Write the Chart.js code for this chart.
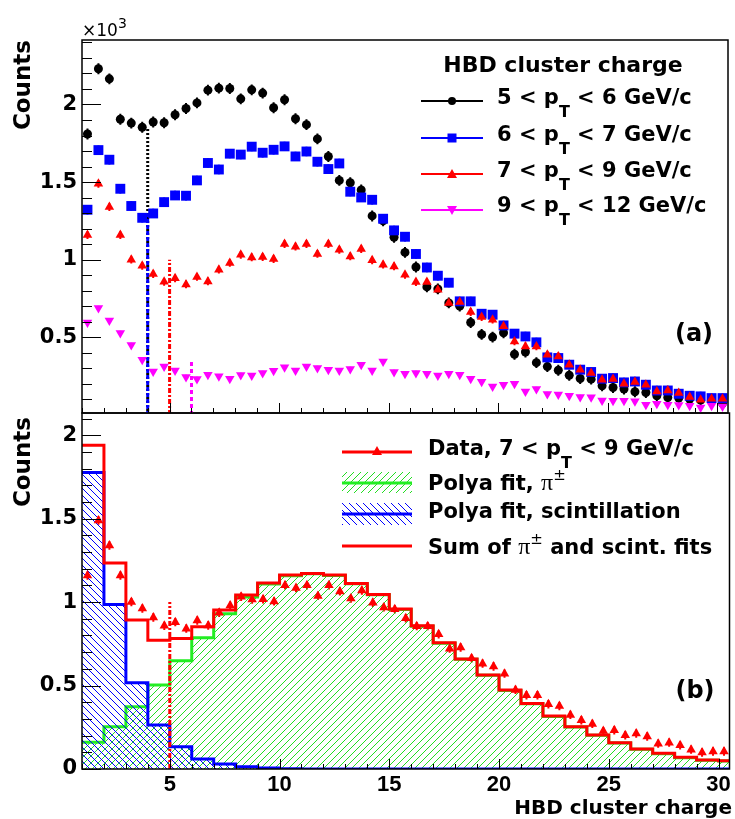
<!DOCTYPE html>
<html>
<head>
<meta charset="utf-8">
<script src="https://cdn.jsdelivr.net/npm/chart.js@4.4.1/dist/chart.umd.min.js"></script>
<style>
  body { margin: 0; background: #fff; }
  #wrap { position: relative; width: 735px; height: 819px; overflow: hidden; }
  canvas { position: absolute; left: 0; top: 0; }
  .t { position: absolute; font-family: "DejaVu Sans"; font-weight: bold; color: #000; white-space: nowrap; line-height: 1; }
  .rot { font-size: 23px; transform: translate(-50%, -50%) rotate(-90deg); }
  .leg { font-size: 21px; }
  .sub { font-size: 16px; position: relative; top: 13px; }
  .pi { font-family: "Liberation Serif"; font-weight: normal; font-size: 24px; }
  .pm { font-weight: normal; font-size: 15px; position: relative; top: -10px; }
</style>
</head>
<body>
<div id="wrap">
  <canvas id="bottom" width="735" height="819"></canvas>
  <canvas id="top" width="735" height="819"></canvas>

  <div class="t" style="left:82px;top:22px;font-weight:normal;font-size:17px">×10<span style="font-size:14px;position:relative;top:-8px">3</span></div>
  <div class="t rot" style="left:22px;top:85px">Counts</div>
  <div class="t rot" style="left:22px;top:462px">Counts</div>
  <div class="t" style="right:3px;top:797px;font-size:20px">HBD cluster charge</div>

  <div class="t" style="left:563px;top:54px;font-size:22px;transform:translateX(-50%)">HBD cluster charge</div>
  <div class="t leg" style="left:497px;top:87px">5 &lt; p<span class="sub">T</span> &lt; 6 GeV/c</div>
  <div class="t leg" style="left:497px;top:124px">6 &lt; p<span class="sub">T</span> &lt; 7 GeV/c</div>
  <div class="t leg" style="left:497px;top:160px">7 &lt; p<span class="sub">T</span> &lt; 9 GeV/c</div>
  <div class="t leg" style="left:497px;top:195px">9 &lt; p<span class="sub">T</span> &lt; 12 GeV/c</div>
  <div class="t" style="left:694px;top:321px;font-size:24px;transform:translateX(-50%)">(a)</div>

  <div class="t leg" style="left:428px;top:438px">Data, 7 &lt; p<span class="sub">T</span> &lt; 9 GeV/c</div>
  <div class="t leg" style="left:428px;top:470px">Polya fit, <span class="pi">π</span><span class="pm">±</span></div>
  <div class="t leg" style="left:428px;top:501px">Polya fit, scintillation</div>
  <div class="t leg" style="left:428px;top:534px">Sum of <span class="pi">π</span><span class="pm">±</span> and scint. fits</div>
  <div class="t" style="left:695px;top:678px;font-size:24px;transform:translateX(-50%)">(b)</div>
</div>
<script>
// bin centres of the HBD cluster charge (0.5 wide bins)
var chargeBins = [1.25, 1.75, 2.25, 2.75, 3.25, 3.75, 4.25, 4.75, 5.25, 5.75,
  6.25, 6.75, 7.25, 7.75, 8.25, 8.75, 9.25, 9.75, 10.25, 10.75,
  11.25, 11.75, 12.25, 12.75, 13.25, 13.75, 14.25, 14.75, 15.25, 15.75,
  16.25, 16.75, 17.25, 17.75, 18.25, 18.75, 19.25, 19.75, 20.25, 20.75,
  21.25, 21.75, 22.25, 22.75, 23.25, 23.75, 24.25, 24.75, 25.25, 25.75,
  26.25, 26.75, 27.25, 27.75, 28.25, 28.75, 29.25, 29.75, 30.25];

// counts (x10^3) per pT range
var counts5to6 = [1.81, 2.23, 2.165, 1.905, 1.88, 1.853, 1.887, 1.882, 1.934, 1.974,
  2.01, 2.092, 2.105, 2.103, 2.036, 2.094, 2.073, 1.979, 2.03, 1.908,
  1.87, 1.778, 1.665, 1.511, 1.496, 1.449, 1.282, 1.25, 1.145, 1.047,
  0.953, 0.825, 0.812, 0.722, 0.701, 0.596, 0.519, 0.502, 0.53, 0.391,
  0.406, 0.337, 0.312, 0.288, 0.256, 0.235, 0.231, 0.188, 0.177, 0.167,
  0.15, 0.145, 0.124, 0.113, 0.109, 0.103, 0.096, 0.092, 0.075];
var counts6to7 = [1.322, 1.706, 1.644, 1.457, 1.346, 1.27, 1.298, 1.371, 1.414, 1.412,
  1.511, 1.623, 1.581, 1.683, 1.677, 1.728, 1.689, 1.708, 1.73, 1.665,
  1.697, 1.631, 1.584, 1.62, 1.438, 1.401, 1.386, 1.264, 1.189, 1.148,
  1.037, 0.95, 0.897, 0.852, 0.732, 0.732, 0.652, 0.646, 0.577, 0.524,
  0.506, 0.468, 0.371, 0.367, 0.324, 0.292, 0.277, 0.234, 0.238, 0.21,
  0.216, 0.195, 0.158, 0.158, 0.137, 0.124, 0.12, 0.109, 0.109];
var counts7to9 = [1.159, 1.489, 1.339, 1.159, 1.0, 0.961, 0.908, 0.858, 0.88, 0.841,
  0.889, 0.86, 0.936, 0.979, 1.032, 1.015, 1.017, 1.004, 1.101, 1.084,
  1.101, 1.037, 1.101, 1.064, 1.021, 1.069, 0.996, 0.968, 0.957, 0.903,
  0.856, 0.856, 0.807, 0.721, 0.728, 0.663, 0.631, 0.614, 0.571, 0.474,
  0.442, 0.442, 0.388, 0.377, 0.324, 0.292, 0.27, 0.227, 0.232, 0.202,
  0.212, 0.195, 0.152, 0.158, 0.142, 0.116, 0.099, 0.105, 0.105];
var counts9to12 = [0.596, 0.689, 0.609, 0.528, 0.451, 0.356, 0.281, 0.313, 0.287, 0.245,
  0.232, 0.259, 0.249, 0.234, 0.257, 0.255, 0.27, 0.285, 0.307, 0.287,
  0.313, 0.303, 0.292, 0.287, 0.296, 0.324, 0.287, 0.345, 0.277, 0.266,
  0.27, 0.266, 0.255, 0.266, 0.259, 0.234, 0.214, 0.184, 0.195, 0.202,
  0.152, 0.167, 0.135, 0.132, 0.124, 0.116, 0.114, 0.094, 0.092, 0.092,
  0.088, 0.066, 0.073, 0.066, 0.064, 0.06, 0.049, 0.06, 0.055];
var errBars = [0.035, 0.03, 0.025, 0.015];

// charge cuts (black, blue, red, magenta)
var cutCharge = [4, 4, 5, 6];
var cutLevel = [1.85, 1.30, 1.0, 0.35];

// Polya fits, 1 unit wide bins
var histLowEdges = [1, 2, 3, 4, 5, 6, 7, 8, 9, 10, 11, 12, 13, 14, 15,
  16, 17, 18, 19, 20, 21, 22, 23, 24, 25, 26, 27, 28, 29, 30];
var histUpEdge = 30.5;
var fitSum = [1.94, 1.235, 0.892, 0.772, 0.782, 0.852, 0.952, 1.042, 1.114, 1.162,
  1.172, 1.162, 1.112, 1.046, 0.958, 0.858, 0.756, 0.659, 0.563, 0.473,
  0.393, 0.317, 0.253, 0.204, 0.158, 0.12, 0.094, 0.07, 0.054, 0.05];
var fitPion = [0.16, 0.253, 0.373, 0.503, 0.649, 0.786, 0.93, 1.03, 1.108, 1.158,
  1.17, 1.16, 1.11, 1.044, 0.956, 0.856, 0.754, 0.657, 0.561, 0.471,
  0.391, 0.315, 0.251, 0.202, 0.156, 0.118, 0.092, 0.068, 0.052, 0.048];
var fitScint = [1.776, 0.986, 0.517, 0.263, 0.134, 0.06, 0.03, 0.014, 0.006, 0.002,
  0, 0, 0, 0, 0, 0, 0, 0, 0, 0,
  0, 0, 0, 0, 0, 0, 0, 0, 0, 0];

var xTickValues = [5, 10, 15, 20, 25, 30];
var yTopTickValues = [0.5, 1, 1.5, 2];
var yBotTickValues = [0, 0.5, 1, 1.5, 2];

function hatch(color, dir) {
  var s = 7, c = document.createElement('canvas');
  c.width = s; c.height = s;
  var g = c.getContext('2d');
  g.strokeStyle = color; g.lineWidth = 1;
  g.beginPath();
  if (dir > 0) {
    g.moveTo(0, s); g.lineTo(s, 0);
    g.moveTo(-1, 1); g.lineTo(1, -1);
    g.moveTo(s - 1, s + 1); g.lineTo(s + 1, s - 1);
  } else {
    g.moveTo(0, 0); g.lineTo(s, s);
    g.moveTo(-1, s - 1); g.lineTo(1, s + 1);
    g.moveTo(s - 1, -1); g.lineTo(s + 1, 1);
  }
  g.stroke();
  return g.createPattern(c, 'repeat');
}
var greenHatch = hatch('#22dd22', 1);
var blueHatch = hatch('#0000ff', -1);

function points(vals, color, style, r, rot, err) {
  return {
    data: chargeBins.map(function(x, i) { return {x: x, y: vals[i]}; }),
    pointStyle: style, pointRadius: r, pointRotation: rot,
    pointBackgroundColor: color, pointBorderWidth: 0,
    borderColor: color, backgroundColor: color,
    showLine: false, errBar: err
  };
}
function cutLine(i, color, dash) {
  return {
    data: [{x: cutCharge[i], y: 0}, {x: cutCharge[i], y: cutLevel[i]}],
    showLine: true, borderColor: color, borderWidth: 3, borderDash: dash,
    pointRadius: 0, fill: false
  };
}
function steps(vals, color, width, fill, bg) {
  var d = histLowEdges.map(function(x, i) { return {x: x, y: vals[i]}; });
  d.push({x: histUpEdge, y: vals[vals.length - 1]});
  return {
    data: d, showLine: true, stepped: 'before', pointRadius: 0,
    borderColor: color, borderWidth: width, fill: fill, backgroundColor: bg || 'transparent'
  };
}

function marker(ctx, style, x, y, r, color) {
  ctx.fillStyle = color;
  ctx.beginPath();
  if (style == 'circle') {
    ctx.arc(x, y, r, 0, Math.PI * 2);
  } else if (style == 'rect') {
    ctx.rect(x - r, y - r, 2 * r, 2 * r);
  } else if (style == 'up') {
    ctx.moveTo(x, y - r); ctx.lineTo(x + r, y + r * 0.8); ctx.lineTo(x - r, y + r * 0.8);
  } else {
    ctx.moveTo(x, y + r); ctx.lineTo(x + r, y - r * 0.8); ctx.lineTo(x - r, y - r * 0.8);
  }
  ctx.closePath();
  ctx.fill();
}

var rootFrame = {
  id: 'rootFrame',
  beforeDatasetsDraw: function(chart) {
    var ctx = chart.ctx, y = chart.scales.y;
    ctx.save();
    ctx.lineWidth = 2;
    chart.data.datasets.forEach(function(ds, i) {
      if (!ds.errBar) return;
      var meta = chart.getDatasetMeta(i);
      ctx.strokeStyle = ds.borderColor;
      ctx.beginPath();
      meta.data.forEach(function(pt, j) {
        var v = ds.data[j].y;
        ctx.moveTo(pt.x, y.getPixelForValue(v + ds.errBar));
        ctx.lineTo(pt.x, y.getPixelForValue(v - ds.errBar));
      });
      ctx.stroke();
    });
    ctx.restore();
  },
  afterDraw: function(chart) {
    var ctx = chart.ctx, a = chart.chartArea, x = chart.scales.x, y = chart.scales.y;
    ctx.save();
    ctx.strokeStyle = '#000';
    ctx.lineWidth = 1;
    ctx.beginPath();
    for (var v = 1; v <= 30; v++) {
      var px = Math.round(x.getPixelForValue(v)) + 0.5;
      var len = v % 5 === 0 ? 10 : 5;
      ctx.moveTo(px, a.bottom); ctx.lineTo(px, a.bottom - len);
    }
    for (var k = 0; k / 10 <= y.max; k++) {
      if (k / 10 < y.min) continue;
      var py = Math.round(y.getPixelForValue(k / 10)) + 0.5;
      var l = k % 5 === 0 ? 19 : 10;
      ctx.moveTo(a.left, py); ctx.lineTo(a.left + l, py);
    }
    ctx.stroke();
    ctx.lineWidth = 1.5;
    ctx.strokeRect(a.left, a.top, a.right - a.left, a.bottom - a.top);
    ctx.restore();
  }
};

var topLegend = {
  id: 'topLegend',
  afterDraw: function(chart) {
    var ctx = chart.ctx;
    var rows = [101, 138, 174, 210];
    var cols = ['#000000', '#0000ff', '#ff0000', '#ff00ff'];
    var styles = ['circle', 'rect', 'up', 'down'];
    var sizes = [4, 4.5, 5, 5];
    ctx.save();
    ctx.lineWidth = 2;
    rows.forEach(function(ry, i) {
      ctx.strokeStyle = cols[i];
      ctx.beginPath(); ctx.moveTo(421, ry); ctx.lineTo(483, ry); ctx.stroke();
      marker(ctx, styles[i], 452, ry, sizes[i], cols[i]);
    });
    ctx.restore();
  }
};

var botLegend = {
  id: 'botLegend',
  afterDraw: function(chart) {
    var ctx = chart.ctx;
    ctx.save();
    ctx.lineWidth = 3;
    ctx.strokeStyle = '#ff0000';
    ctx.beginPath(); ctx.moveTo(342, 452); ctx.lineTo(412, 452); ctx.stroke();
    marker(ctx, 'up', 377, 451, 5, '#ff0000');
    ctx.fillStyle = greenHatch; ctx.fillRect(342, 472, 70, 21);
    ctx.strokeStyle = '#22ee22';
    ctx.beginPath(); ctx.moveTo(342, 483); ctx.lineTo(412, 483); ctx.stroke();
    ctx.fillStyle = blueHatch; ctx.fillRect(342, 503, 70, 22);
    ctx.strokeStyle = '#0000ff';
    ctx.beginPath(); ctx.moveTo(342, 514); ctx.lineTo(412, 514); ctx.stroke();
    ctx.strokeStyle = '#ff0000';
    ctx.beginPath(); ctx.moveTo(342, 546); ctx.lineTo(412, 546); ctx.stroke();
    ctx.restore();
  }
};

var yFont = {family: 'DejaVu Sans', weight: 'bold', size: 21};

new Chart(document.getElementById('top'), {
  type: 'scatter',
  data: {
    datasets: [
      points(counts9to12, '#ff00ff', 'triangle', 5.5, 180, errBars[3]),
      points(counts7to9, '#ff0000', 'triangle', 5.5, 0, errBars[2]),
      points(counts6to7, '#0000ff', 'rect', 7, 0, errBars[1]),
      points(counts5to6, '#000000', 'circle', 4.5, 0, errBars[0]),
      cutLine(3, '#ff00ff', [4, 3]),
      cutLine(2, '#ff0000', [5, 2, 2, 2]),
      cutLine(1, '#0000ff', [4, 2]),
      cutLine(0, '#000000', [2, 2])
    ]
  },
  options: {
    responsive: false, animation: false, devicePixelRatio: 1, events: [],
    layout: {padding: {top: 40, right: 2, bottom: 406, left: 0}},
    plugins: {legend: {display: false}, tooltip: {enabled: false}},
    scales: {
      x: {type: 'linear', min: 1, max: 30.5, display: false},
      y: {
        min: 0.013, max: 2.415,
        grid: {display: false, drawTicks: false}, border: {display: false},
        afterFit: function(s) { s.width = 82; },
        afterBuildTicks: function(s) { s.ticks = yTopTickValues.map(function(v) { return {value: v}; }); },
        ticks: {padding: 5, color: '#000', font: yFont, callback: function(v) { return String(v); }}
      }
    }
  },
  plugins: [rootFrame, topLegend]
});

new Chart(document.getElementById('bottom'), {
  type: 'scatter',
  data: {
    datasets: [
      points(counts7to9, '#ff0000', 'triangle', 5.5, 0, errBars[2]),
      cutLine(2, '#ff0000', [5, 2, 2, 2]),
      steps(fitSum, '#ff0000', 3, false),
      steps(fitScint, '#0000ff', 3, 'origin', blueHatch),
      steps(fitPion, '#22ee22', 3, 'origin', greenHatch)
    ]
  },
  options: {
    responsive: false, animation: false, devicePixelRatio: 1, events: [],
    layout: {padding: {top: 413, right: 2, bottom: 0, left: 0}},
    plugins: {legend: {display: false}, tooltip: {enabled: false}},
    scales: {
      x: {
        type: 'linear', min: 1, max: 30.5,
        grid: {display: false, drawTicks: false}, border: {display: false},
        afterFit: function(s) { s.height = 50; },
        afterBuildTicks: function(s) { s.ticks = xTickValues.map(function(v) { return {value: v}; }); },
        ticks: {padding: 3, maxRotation: 0, autoSkip: false, color: '#000',
          font: {family: 'Liberation Sans', weight: 'bold', size: 22}}
      },
      y: {
        min: 0, max: 2.133,
        grid: {display: false, drawTicks: false}, border: {display: false},
        afterFit: function(s) { s.width = 82; },
        afterBuildTicks: function(s) { s.ticks = yBotTickValues.map(function(v) { return {value: v}; }); },
        ticks: {padding: 5, color: '#000', font: yFont, callback: function(v) { return String(v); }}
      }
    }
  },
  plugins: [rootFrame, botLegend]
});
</script>
</body>
</html>
